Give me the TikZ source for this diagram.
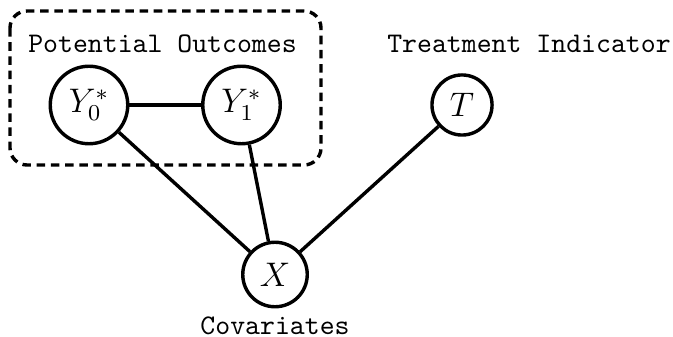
\documentclass[tikz,border=0pt]{standalone}
\usepackage{tikz}
\usetikzlibrary{positioning}

\begin{document}
\begin{tikzpicture}[x=0.352pt, y=-0.352pt, line width=1.2pt,
    var/.style={circle, draw, inner sep=3.3pt, font=\large},
    lbl/.style={font=\ttfamily, inner sep=0pt}]
    \useasboundingbox (0,0) rectangle (673,337);
    % group box
    \draw [dash pattern=on 3pt off 2pt, rounded corners=6pt] (10,11) rectangle (321,165);
    \node [lbl] (po) at (162.5,44) {Potential Outcomes};
    \node [lbl] (ti) at (529,44) {Treatment Indicator};
    % variables
    \node [var] (y0) at (89,105) {$Y_0^*$};
    \node [var] (y1) at (241.5,105) {$Y_1^*$};
    \node [var] (t) at (462,105) {$T$};
    \node [var] (x) at (275,274.5) {$X$};
    \node [lbl] (cov) at (275,326) {Covariates};
    \foreach \a/\b in {y0/y1,y0/x,y1/x,t/x} {
        \draw (\a) -- (\b);
    }
\end{tikzpicture}
\end{document}
